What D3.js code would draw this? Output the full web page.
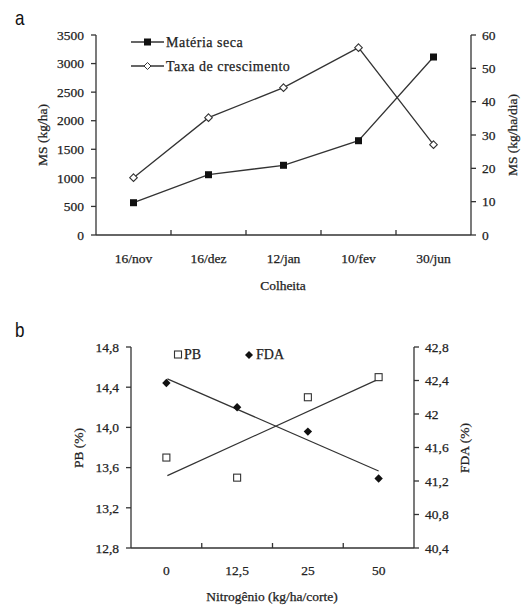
<!DOCTYPE html>
<html>
<head>
<meta charset="utf-8">
<script src="https://cdn.jsdelivr.net/npm/d3@7"></script>
<style>
  body { margin: 0; background: #fff; }
  svg { display: block; }
</style>
</head>
<body>
<div id="viz"></div>
<script>
// panel a
const harvests = ["16/nov", "16/dez", "12/jan", "10/fev", "30/jun"];
const dryMatter = [565, 1055, 1220, 1650, 3115];
const growthRate = [17.2, 35.2, 44.2, 56.2, 27.1];
const msTicks = [0, 500, 1000, 1500, 2000, 2500, 3000, 3500];
const rateTicks = [0, 10, 20, 30, 40, 50, 60];

// panel b
const nitrogen = ["0", "12,5", "25", "50"];
const pb = [13.7, 13.5, 14.3, 14.5];
const fda = [42.37, 42.08, 41.79, 41.23];
const pbTrend = [13.52, 14.48];   // fitted line at 0 and 50
const fdaTrend = [42.42, 41.32];
const pbTicks = [12.8, 13.2, 13.6, 14.0, 14.4, 14.8];
const fdaTicks = [40.4, 40.8, 41.2, 41.6, 42.0, 42.4, 42.8];

const SERIF = "'Liberation Serif', 'Times New Roman', serif";
const SANS = "'Liberation Sans', Arial, sans-serif";
const FS = 13.5;
const WIDTH = 525, HEIGHT = 608;
const svg = d3.select("#viz").append("svg")
  .attr("width", WIDTH).attr("height", HEIGHT)
  .attr("font-family", SERIF)
  .attr("fill", "#222");

const comma = (d, dec) => d3.format("." + dec + "f")(d).replace(".", ",");

// diamond drawn as a rotated square
const diamondPath = s => `M0,${-s}L${s},0L0,${s}L${-s},0Z`;

function label(g, x, y, txt, anchor) {
  return g.append("text").attr("x", x).attr("y", y).attr("dy", "0.35em")
    .attr("text-anchor", anchor || "middle")
    .attr("font-family", SERIF).attr("font-size", FS)
    .attr("stroke", "#222").attr("stroke-width", 0.25)
    .text(txt);
}

function vlabel(g, x, y, txt) {
  return g.append("text").attr("transform", `translate(${x},${y}) rotate(-90)`).attr("dy", "0.35em")
    .attr("text-anchor", "middle").attr("font-size", FS)
    .attr("stroke", "#222").attr("stroke-width", 0.25)
    .text(txt);
}

function panelLetter(g, x, y, txt) {
  g.append("text").attr("transform", `translate(${x},${y}) scale(0.85,1)`)
    .attr("font-family", SANS).attr("font-size", 20).attr("fill", "#111").text(txt);
}

function drawAxes(g, x, yL, yR, ticksL, ticksR, fmtL, fmtR) {
  const [x0, x1] = x.range();
  const [yb, yt] = yL.range();
  const ax = (a, b, c, d) => g.append("line").attr("x1", a).attr("y1", b).attr("x2", c).attr("y2", d)
    .attr("stroke", "#333").attr("stroke-width", 1.3);
  ax(x0, yb, x1, yb);
  ax(x0, yb, x0, yt);
  ax(x1, yb, x1, yt);

  ticksL.forEach(t => {
    ax(x0 - 5, yL(t), x0, yL(t));
    label(g, x0 - 12, yL(t), fmtL(t), "end");
  });
  ticksR.forEach(t => {
    ax(x1, yR(t), x1 + 5, yR(t));
    label(g, x1 + 11, yR(t), fmtR(t), "start");
  });
  // category boundary ticks pointing inward
  x.domain().slice(1).forEach(c => {
    const bx = x(c) - x.step() / 2;
    ax(bx, yb, bx, yb - 5);
  });
}

// ---------- panel a ----------
{
  const g = svg.append("g");
  const x = d3.scalePoint().domain(harvests).range([96, 471]).padding(0.5);
  const yL = d3.scaleLinear().domain([0, 3500]).range([235, 35]);
  const yR = d3.scaleLinear().domain([0, 60]).range([235, 35]);

  panelLetter(g, 15, 25, "a");

  drawAxes(g, x, yL, yR, msTicks, rateTicks, d => d, d => d);

  harvests.forEach(h => label(g, x(h), 258, h));
  label(g, 283, 285, "Colheita");
  vlabel(g, 42, 135, "MS (kg/ha)");
  vlabel(g, 512, 135, "MS (kg/ha/dia)");

  const line = d3.line();
  g.append("path")
    .attr("d", line(harvests.map((h, i) => [x(h), yR(growthRate[i])])))
    .attr("fill", "none").attr("stroke", "#333").attr("stroke-width", 1.3);
  g.append("path")
    .attr("d", line(harvests.map((h, i) => [x(h), yL(dryMatter[i])])))
    .attr("fill", "none").attr("stroke", "#333").attr("stroke-width", 1.3);

  g.selectAll(".rate").data(growthRate).join("path")
    .attr("transform", (d, i) => `translate(${x(harvests[i])},${yR(d)})`)
    .attr("d", diamondPath(3.8)).attr("fill", "#fff").attr("stroke", "#333").attr("stroke-width", 1.1);
  g.selectAll(".ms").data(dryMatter).join("rect")
    .attr("x", (d, i) => x(harvests[i]) - 3.5).attr("y", d => yL(d) - 3.5)
    .attr("width", 7).attr("height", 7).attr("fill", "#111");

  // legend
  const legend = [
    { label: "Matéria seca", y: 42, filled: true },
    { label: "Taxa de crescimento", y: 66, filled: false }
  ];
  legend.forEach(l => {
    g.append("line").attr("x1", 131).attr("x2", 164).attr("y1", l.y).attr("y2", l.y)
      .attr("stroke", "#333").attr("stroke-width", 1.3);
    if (l.filled) {
      g.append("rect").attr("x", 144).attr("y", l.y - 3.5).attr("width", 7).attr("height", 7)
        .attr("fill", "#111");
    } else {
      g.append("path").attr("transform", `translate(147.5,${l.y})`).attr("d", diamondPath(3.5))
        .attr("fill", "#fff").attr("stroke", "#333");
    }
    g.append("text").attr("x", 166).attr("y", l.y).attr("dy", "0.35em")
      .attr("font-size", 14).attr("letter-spacing", 0.5)
      .attr("stroke", "#222").attr("stroke-width", 0.25).text(l.label);
  });
}

// ---------- panel b ----------
{
  const g = svg.append("g");
  const x = d3.scalePoint().domain(nitrogen).range([131, 414]).padding(0.5);
  const yL = d3.scaleLinear().domain([12.8, 14.8]).range([548, 347]);
  const yR = d3.scaleLinear().domain([40.4, 42.8]).range([548, 347]);

  panelLetter(g, 15, 337, "b");

  drawAxes(g, x, yL, yR, pbTicks, fdaTicks,
    d => comma(d, 1),
    d => Math.abs(d - 42) < 1e-9 ? "42" : comma(d, 1));

  nitrogen.forEach(n => label(g, x(n), 570, n));
  label(g, 272, 596, "Nitrogênio (kg/ha/corte)");
  vlabel(g, 78, 448, "PB (%)");
  vlabel(g, 464, 448, "FDA (%)");

  const first = nitrogen[0], last = nitrogen[nitrogen.length - 1];
  g.append("line")
    .attr("x1", x(first) + 1).attr("y1", yL(pbTrend[0]))
    .attr("x2", x(last)).attr("y2", yL(pbTrend[1]))
    .attr("stroke", "#333").attr("stroke-width", 1.2);
  g.append("line")
    .attr("x1", x(first) + 1).attr("y1", yR(fdaTrend[0]))
    .attr("x2", x(last)).attr("y2", yR(fdaTrend[1]))
    .attr("stroke", "#333").attr("stroke-width", 1.2);

  g.selectAll(".pb").data(pb).join("rect")
    .attr("x", (d, i) => x(nitrogen[i]) - 3.5).attr("y", d => yL(d) - 3.5)
    .attr("width", 7).attr("height", 7)
    .attr("fill", "#fff").attr("stroke", "#333").attr("stroke-width", 1.1);
  g.selectAll(".fda").data(fda).join("path")
    .attr("transform", (d, i) => `translate(${x(nitrogen[i])},${yR(d)})`)
    .attr("d", diamondPath(4.2)).attr("fill", "#111");

  // legend
  g.append("rect").attr("x", 174.5).attr("y", 351).attr("width", 7).attr("height", 7)
    .attr("fill", "#fff").attr("stroke", "#333").attr("stroke-width", 1.1);
  g.append("text").attr("x", 184).attr("y", 354.5).attr("dy", "0.35em")
    .attr("font-size", 14).attr("stroke", "#222").attr("stroke-width", 0.25).text("PB");
  g.append("path").attr("transform", "translate(249,355)").attr("d", diamondPath(4)).attr("fill", "#111");
  g.append("text").attr("x", 256).attr("y", 354.5).attr("dy", "0.35em")
    .attr("font-size", 14).attr("stroke", "#222").attr("stroke-width", 0.25).text("FDA");
}
</script>
</body>
</html>
